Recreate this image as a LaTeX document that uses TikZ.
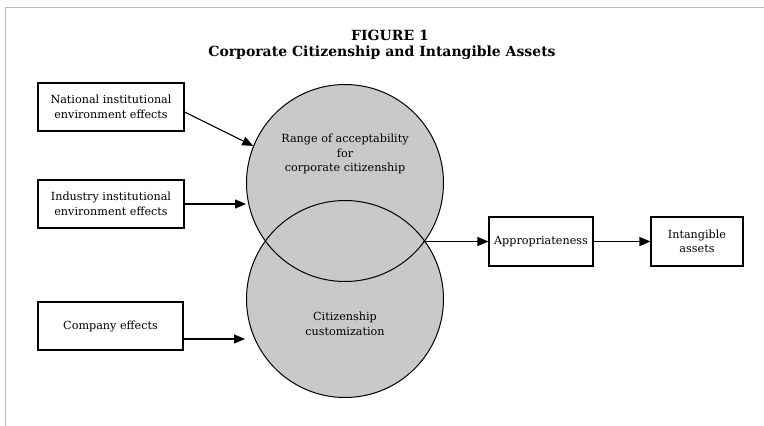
\documentclass[tikz,border=0pt]{standalone}
\usepackage{fontspec}
\setmainfont{DejaVu Serif}
\usetikzlibrary{arrows.meta,calc}
\definecolor{discgray}{gray}{0.79}
\definecolor{framegray}{gray}{0.74}
\begin{document}
\begin{tikzpicture}[x=1pt,y=-1pt,
  every node/.style={font=\fontsize{11.2}{14.5}\selectfont, align=center, inner sep=0pt},
  box/.style={draw, line width=1.1pt, minimum height=48pt},
  ring/.style={draw, circle, line width=1pt, minimum size=197pt},
  titletext/.style={font=\bfseries\fontsize{14}{18}\selectfont},
  link/.style={-{Triangle[length=11pt,width=9pt]}, line width=1.1pt}]
\useasboundingbox (0,0) rectangle (764,426);

% page frame
\draw[framegray, line width=1.3pt] (5.5,426) -- (5.5,7.5) -- (764,7.5);

% heading
\node[titletext] (fig) at (390,35) {FIGURE 1};
\node[titletext] (caption) at (382,53) {Corporate Citizenship and Intangible Assets};

% overlapping circles: both fills first, outlines on top
\fill[discgray] (345,183) circle[radius=98.5];
\fill[discgray] (345,299) circle[radius=98.5];
\node[ring] (upper) at (345,183) {};
\node[ring] (lower) at (345,299) {};
\node (uppertext) at (345,154) {Range of acceptability\\for\\corporate citizenship};
\node (lowertext) at (345,324) {Citizenship\\customization};

% influence boxes
\node[box, minimum width=146pt] (national) at (111,107) {National institutional\\environment effects};
\node[box, minimum width=146pt] (industry) at (111,204) {Industry institutional\\environment effects};
\node[box, minimum width=145pt] (company) at (110.5,326) {Company effects};

% outcome boxes
\node[box, minimum width=104pt, minimum height=49pt] (approp) at (541,241.5) {Appropriateness};
\node[box, minimum width=92pt, minimum height=49pt] (assets) at (697,241.5) {Intangible\\assets};

% connector ends
\coordinate (cross) at (423,241.5);
\coordinate (companyend) at (245,339);

% connectors
\draw[link] ([yshift=-5pt]national.east) -- (upper.158);
\draw[link] (industry.east) -- (industry.east -| upper.west);
\draw[link] (company.east |- companyend) -- (companyend);
\draw[link] (cross) -- (approp.west);
\draw[link] (approp.east) -- (assets.west);
\end{tikzpicture}
\end{document}
